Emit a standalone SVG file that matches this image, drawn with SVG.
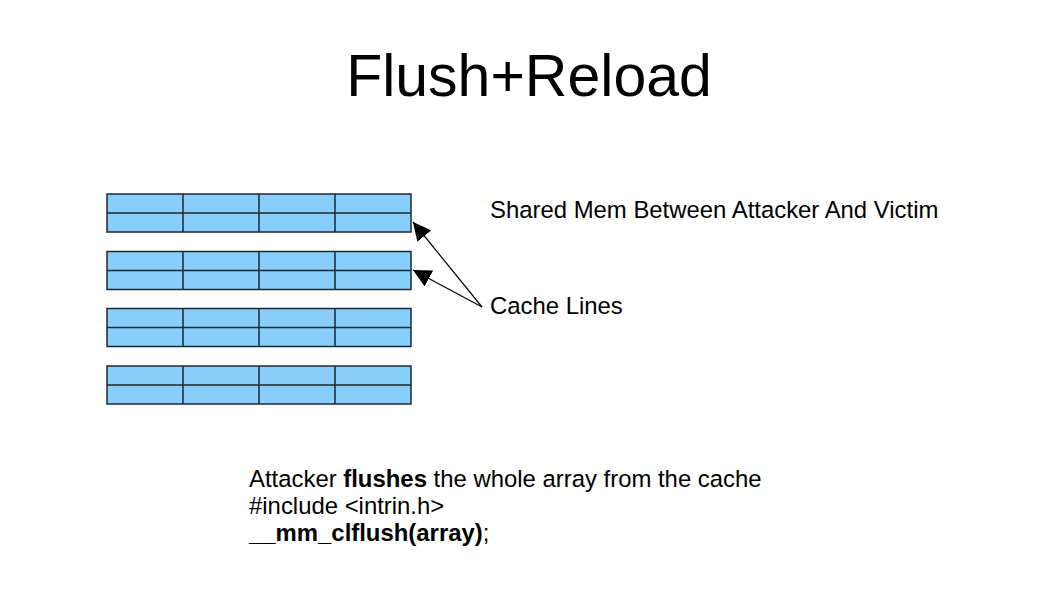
<svg xmlns="http://www.w3.org/2000/svg" width="1058" height="595" viewBox="0 0 1058 595">
<style>
text{font-family:"Liberation Sans",Arial,sans-serif;fill:#000}
.cell{fill:#87cefa;stroke:#1c2833;stroke-width:1.5}
.grid{stroke:#1c2833;stroke-width:1.5;fill:none}
.conn{stroke:#000;stroke-width:1.2;fill:none}
.lbl{font-size:23.9px}
</style>
<defs>
<marker id="ah" viewBox="0 0 10 10" refX="10" refY="5" markerWidth="18" markerHeight="18" markerUnits="userSpaceOnUse" orient="auto">
<path d="M0,0 L10,5 L0,10 z" fill="#000"/>
</marker>
</defs>
<rect width="1058" height="595" fill="#fff"/>
<text x="529" y="96" font-size="59" text-anchor="middle">Flush+Reload</text>
<g id="line1"><rect class="cell" x="107" y="194" width="304" height="38"/><path class="grid" d="M107,213H411M183,194V232M259,194V232M335,194V232"/></g>
<g id="line2"><rect class="cell" x="107" y="251.5" width="304" height="38"/><path class="grid" d="M107,270.5H411M183,251.5V289.5M259,251.5V289.5M335,251.5V289.5"/></g>
<g id="line3"><rect class="cell" x="107" y="308.5" width="304" height="38"/><path class="grid" d="M107,327.5H411M183,308.5V346.5M259,308.5V346.5M335,308.5V346.5"/></g>
<g id="line4"><rect class="cell" x="107" y="366" width="304" height="38"/><path class="grid" d="M107,385H411M183,366V404M259,366V404M335,366V404"/></g>
<g id="shared"><text class="lbl" x="490" y="218">Shared Mem Between Attacker And Victim</text></g>
<g id="cachelines"><text class="lbl" x="490" y="314">Cache Lines</text></g>
<g id="connectors">
<line class="conn" x1="482" y1="307" x2="413" y2="222" marker-end="url(#ah)"/>
<line class="conn" x1="482" y1="307" x2="413" y2="270" marker-end="url(#ah)"/>
</g>
<g id="code">
<text class="lbl" x="249" y="487">Attacker <tspan font-weight="bold">flushes</tspan> the whole array from the cache</text>
<text class="lbl" x="249" y="514">#include &lt;intrin.h&gt;</text>
<text class="lbl" x="249" y="541"><tspan font-weight="bold">__mm_clflush(array)</tspan>;</text>
</g>
</svg>
